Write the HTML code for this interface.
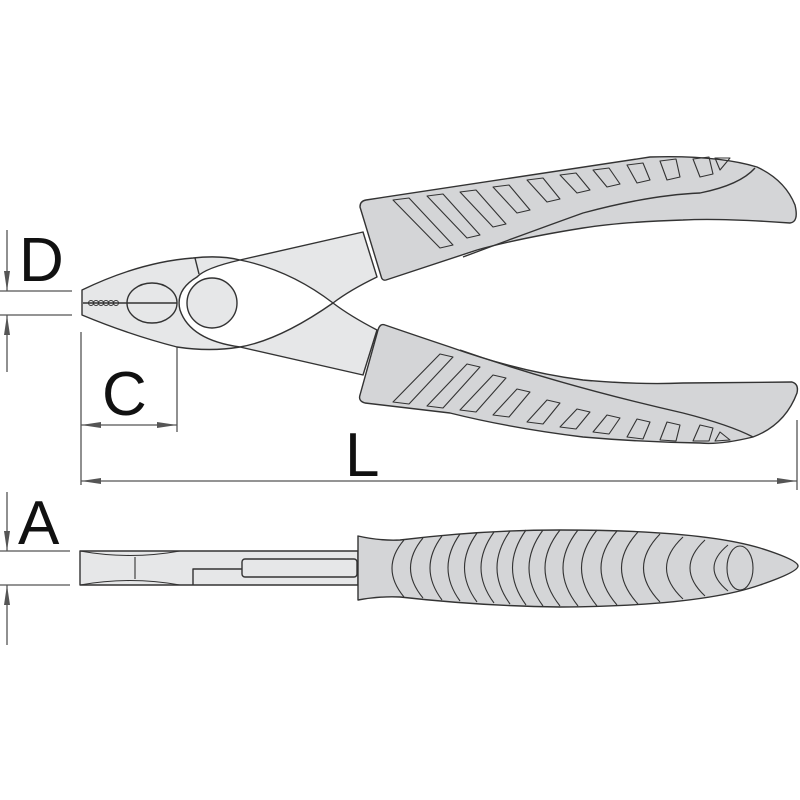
<!DOCTYPE html>
<html><head><meta charset="utf-8"><style>html,body{margin:0;padding:0;background:#fff}svg{display:block}</style></head>
<body>
<svg width="800" height="800" viewBox="0 0 800 800" xmlns="http://www.w3.org/2000/svg">
<defs>
<marker id="ar" viewBox="0 0 20 8" refX="20" refY="4" markerWidth="20" markerHeight="8" markerUnits="userSpaceOnUse" orient="auto"><path d="M0,1 L20,4 L0,7 Z" fill="#555"/></marker>
</defs>
<g stroke="#555" stroke-width="1.3" fill="none">
<line x1="0" y1="291" x2="72" y2="291"/><line x1="0" y1="315" x2="72" y2="315"/>
<line x1="7" y1="230" x2="7" y2="291" marker-end="url(#ar)"/>
<line x1="7" y1="372" x2="7" y2="315" marker-end="url(#ar)"/>
<line x1="81" y1="332" x2="81" y2="485"/><line x1="177" y1="318" x2="177" y2="432"/>
<line x1="129" y1="425" x2="81" y2="425" marker-end="url(#ar)"/>
<line x1="129" y1="425" x2="177" y2="425" marker-end="url(#ar)"/>
<line x1="797" y1="420" x2="797" y2="490"/>
<line x1="440" y1="481" x2="81" y2="481" marker-end="url(#ar)"/>
<line x1="440" y1="481" x2="797" y2="481" marker-end="url(#ar)"/>
<line x1="0" y1="551" x2="70" y2="551"/><line x1="0" y1="585" x2="70" y2="585"/>
<line x1="7" y1="492" x2="7" y2="551" marker-end="url(#ar)"/>
<line x1="7" y1="645" x2="7" y2="585" marker-end="url(#ar)"/>
</g>
<g font-family="Liberation Sans, sans-serif" font-size="62" fill="#111">
<text x="19" y="281">D</text>
<text x="102" y="415">C</text>
<text x="345" y="476">L</text>
<text x="18" y="544">A</text>
</g>
<g stroke="#333" stroke-width="1.4" stroke-linejoin="round">
<path d="M240,260 L363,232 L377,277 Q350,290 333,303 Q280,340 240,347 L363,375 L377,330 Q350,316 333,303 Q290,270 240,260 Z" fill="#e6e7e8"/>
<path d="M82,290 Q140,262 193,258 Q220,255 240,260 Q205,268 197,277 Q175,290 180,310 Q190,340 240,347 Q210,352 177,347 Q130,335 82,315 Z" fill="#e6e7e8"/>
<line x1="195" y1="258" x2="199" y2="274" fill="none"/>
<circle cx="212" cy="303" r="25" fill="#e6e7e8"/>
<ellipse cx="152" cy="303" rx="25" ry="20" fill="#e6e7e8"/>
<line x1="83" y1="303" x2="177" y2="303"/>
<g fill="none" stroke-width="1">
<circle cx="91" cy="303" r="2.5"/><circle cx="96" cy="303" r="2.5"/><circle cx="101" cy="303" r="2.5"/><circle cx="106" cy="303" r="2.5"/><circle cx="111" cy="303" r="2.5"/><circle cx="116" cy="303" r="2.5"/>
</g>
<!-- upper handle -->
<path d="M366,200 Q500,180 650,157 Q717,155 757,167 Q785,180 795,205 Q799,222 790,223 Q720,218 683,220 Q620,222 583,228 Q520,238 477,250 L386,280 Q382,281 381,276 L360,207 Q360,201 366,200 Z" fill="#d4d5d7"/>
<path d="M463,257 Q530,232 583,213 Q650,195 700,193 Q740,185 755,168" fill="none"/>
<g fill="none" stroke-width="1.1">
<polygon points="393,200 409,198 453,245 440,248"/>
<polygon points="427,196 443,194 480,235 467,238"/>
<polygon points="460,192 476,190 506,224 493,227"/>
<polygon points="493,187 509,185 530,210 517,213"/>
<polygon points="527,180 543,178 560,199 547,202"/>
<polygon points="560,175 576,173 590,190 577,193"/>
<polygon points="593,170 609,168 620,184 607,187"/>
<polygon points="627,165 643,163 650,180 637,183"/>
<polygon points="660,161 676,159 680,177 667,180"/>
<polygon points="693,159 709,157 713,174 700,177"/>
<polygon points="715,158 730,158 720,170"/>
</g>
<!-- lower handle -->
<path d="M385,325 Q420,337 450,347 Q520,372 583,380 Q640,385 683,383 L792,382 Q799,384 797,393 Q785,425 753,437 Q720,445 700,443 Q640,442 583,437 Q510,428 450,413 L365,403 Q358,401 360,395 L378,330 Q380,323 385,325 Z" fill="#d4d5d7"/>
<path d="M460,350 Q560,385 683,413 Q730,425 753,437" fill="none"/>
<g fill="none" stroke-width="1.1">
<polygon points="393,402 409,404 453,357 440,354"/>
<polygon points="427,406 443,408 480,367 467,364"/>
<polygon points="460,410 476,412 506,378 493,375"/>
<polygon points="493,415 509,417 530,392 517,389"/>
<polygon points="527,422 543,424 560,403 547,400"/>
<polygon points="560,427 576,429 590,412 577,409"/>
<polygon points="593,432 609,434 620,418 607,415"/>
<polygon points="627,437 643,439 650,422 637,419"/>
<polygon points="660,440 676,441 680,425 667,422"/>
<polygon points="693,441 709,441 713,428 700,425"/>
<polygon points="715,441 730,440 720,432"/>
</g>
<!-- bottom view head -->
<rect x="80" y="551" width="278" height="34" fill="#e6e7e8"/>
<path d="M80,551 Q130,560 180,551 M80,585 Q130,576 180,585 M135,557 L135,579" fill="none" stroke-width="1.1"/>
<path d="M193,585 L193,569 L242,569" fill="none"/>
<rect x="242" y="559" width="115" height="18" rx="3" fill="#e6e7e8"/>
<!-- bottom handle -->
<path d="M358,536 Q380,541 400,540 Q480,530 560,530 Q700,530 760,548 Q798,560 798,566 Q798,572 760,585 Q700,606 560,607 Q480,606 400,597 Q380,596 358,600 Z" fill="#d4d5d7"/>
<g fill="none" stroke-width="1.1">
<path d="M404,540 Q380,568 404,597"/>
<path d="M423,538 Q398,568 423,598"/>
<path d="M442,536 Q418,568 442,600"/>
<path d="M460,534 Q436,568 460,601"/>
<path d="M477,533 Q452,568 477,602"/>
<path d="M494,532 Q468,568 494,603"/>
<path d="M510,531 Q484,568 510,604"/>
<path d="M526,530 Q499,568 526,605"/>
<path d="M543,530 Q515,568 543,606"/>
<path d="M560,530 Q530,568 560,606"/>
<path d="M578,530 Q548,568 578,606"/>
<path d="M597,530 Q566,568 597,606"/>
<path d="M617,531 Q585,568 617,605"/>
<path d="M638,532 Q605,568 638,604"/>
<path d="M660,534 Q627,568 660,602"/>
<path d="M683,537 Q650,568 683,599"/>
<path d="M705,540 Q675,568 705,596"/>
<path d="M728,545 Q700,568 728,591"/>
<ellipse cx="740" cy="568" rx="13" ry="22"/>
</g>
</g>
</svg>
</body></html>
